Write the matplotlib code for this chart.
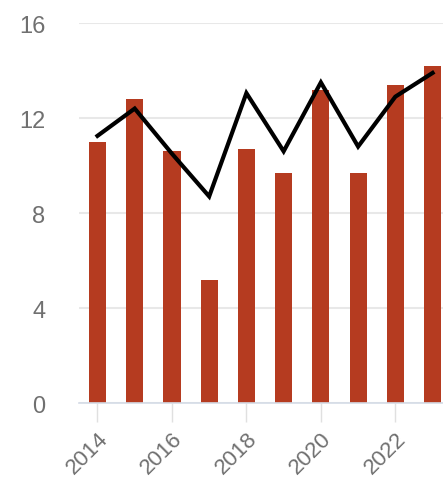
import matplotlib.pyplot as plt
import numpy as np

plt.rcParams['font.family'] = ['Liberation Sans', 'DejaVu Sans']

# 年份和数值
years = [2014, 2015, 2016, 2017, 2018, 2019, 2020, 2021, 2022, 2023]
bar_values = [11.0, 12.8, 10.6, 5.2, 10.7, 9.7, 13.2, 9.7, 13.4, 14.2]
line_values = [11.25, 12.4, 10.5, 8.7, 13.05, 10.6, 13.5, 10.8, 12.9, 13.9]
y_ticks = [0, 4, 8, 12, 16]
x_tick_years = [2014, 2016, 2018, 2020, 2022]

fig = plt.figure(figsize=(4.43, 4.81), dpi=100)
ax = fig.add_axes([0.178, 0.16, 0.822, 0.79])

x = np.arange(len(years))
ax.bar(x, bar_values, width=0.46, color='#b53b20', zorder=2)
ax.plot(x, line_values, color='black', linewidth=3, zorder=3, solid_joinstyle='miter')

ax.set_ylim(0, 16)
ax.set_xlim(-0.5, 9.28)
ax.set_yticks(y_ticks)
ax.set_yticklabels([str(v) for v in y_ticks])
ax.yaxis.grid(True, color='#e8e8e8', linewidth=1.5, zorder=0)

xt = [years.index(y) for y in x_tick_years]
ax.set_xticks(xt)
ax.set_xticklabels([str(y) for y in x_tick_years], rotation=45, ha='right',
                   rotation_mode='anchor')

for s in ['top', 'right', 'left']:
    ax.spines[s].set_visible(False)
ax.spines['bottom'].set_color('#d4dbe6')
ax.spines['bottom'].set_linewidth(1.2)

ax.tick_params(axis='y', length=0, pad=24, labelsize=17, labelcolor='#707070')
ax.tick_params(axis='x', length=14, width=1, color='#e0e0e0', pad=4,
               labelsize=16, labelcolor='#707070')

fig.savefig('out.png', dpi=100)
